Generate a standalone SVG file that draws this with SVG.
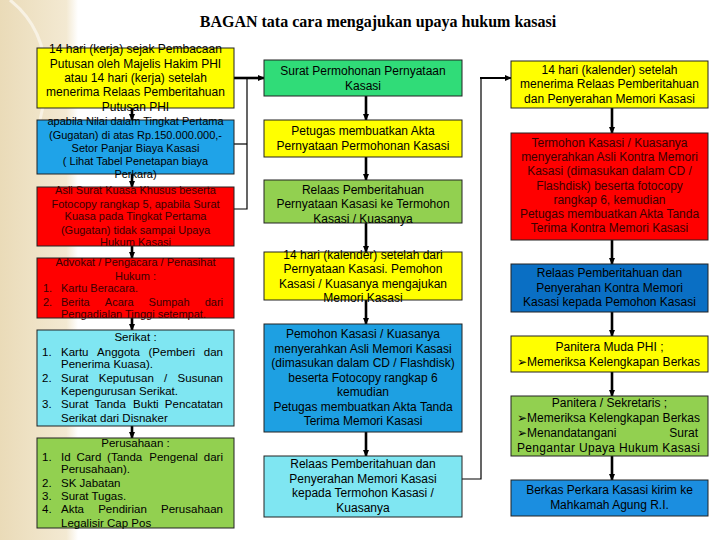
<svg xmlns="http://www.w3.org/2000/svg" width="720" height="540" viewBox="0 0 720 540">
<defs>
<linearGradient id="bg" x1="0" y1="0" x2="1" y2="0">
<stop offset="0" stop-color="#eadbb8"/>
<stop offset="0.85" stop-color="#f3e9d2"/>
<stop offset="1" stop-color="#ffffff"/>
</linearGradient>
<marker id="ah" markerUnits="userSpaceOnUse" markerWidth="7" markerHeight="7" refX="6" refY="3.5" orient="auto">
<path d="M0,0.5 L7,3.5 L0,6.5 Z" fill="#000"/>
</marker>
</defs>
<style>
.b{stroke:#222;stroke-width:1}
.t{font-family:"Liberation Sans",Arial,sans-serif;font-size:12px;fill:#000}
.s{font-size:11px}
.m{font-size:11.5px}
.c{text-anchor:middle}
.e{text-anchor:end}
.dk{fill:#3a0000}
.ti{font-family:"Liberation Serif","Times New Roman",serif;font-size:16px;font-weight:bold;fill:#000;text-anchor:middle}
.cn{fill:none;stroke:#000}
.th{stroke-width:2.6}
.tn{stroke-width:1.2}
</style>
<rect x="0" y="0" width="720" height="540" fill="#fff"/>
<rect x="0" y="0" width="78" height="540" fill="url(#bg)"/>
<path d="M10,0 Q60,40 40,120" fill="none" stroke="#f8f2e4" stroke-width="3"/>
<text class="ti" x="378" y="27">BAGAN tata cara mengajukan upaya hukum kasasi</text>

<g id="connectors">
<line class="cn th" x1="132" y1="108" x2="132" y2="120" marker-end="url(#ah)"/>
<line class="cn th" x1="132" y1="174" x2="132" y2="187" marker-end="url(#ah)"/>
<line class="cn th" x1="132" y1="246" x2="132" y2="258" marker-end="url(#ah)"/>
<line class="cn th" x1="132" y1="318" x2="132" y2="330" marker-end="url(#ah)"/>
<line class="cn th" x1="132" y1="426" x2="132" y2="438" marker-end="url(#ah)"/>
<line class="cn th" x1="234" y1="78" x2="264" y2="78" marker-end="url(#ah)"/>
<polyline class="cn tn" points="247,78 247,209 234,209"/>
<line class="cn tn" x1="234" y1="144" x2="247" y2="144"/>
<line class="cn th" x1="366" y1="96" x2="366" y2="120" marker-end="url(#ah)"/>
<line class="cn th" x1="366" y1="157" x2="366" y2="180" marker-end="url(#ah)"/>
<line class="cn th" x1="366" y1="223" x2="366" y2="252" marker-end="url(#ah)"/>
<line class="cn th" x1="366" y1="300" x2="366" y2="324" marker-end="url(#ah)"/>
<line class="cn th" x1="366" y1="432" x2="366" y2="456" marker-end="url(#ah)"/>
<polyline class="cn tn" points="462,479 481,479 481,78"/>
<line class="cn" stroke-width="2" x1="480" y1="78" x2="511" y2="78" marker-end="url(#ah)"/>
<line class="cn th" x1="612" y1="108" x2="612" y2="133" marker-end="url(#ah)"/>
<line class="cn th" x1="612" y1="240" x2="612" y2="264" marker-end="url(#ah)"/>
<line class="cn th" x1="612" y1="312" x2="612" y2="336" marker-end="url(#ah)"/>
<line class="cn th" x1="612" y1="372" x2="612" y2="396" marker-end="url(#ah)"/>
<line class="cn th" x1="612" y1="456" x2="612" y2="480" marker-end="url(#ah)"/>
</g>

<g id="l1">
<rect class="b" x="37" y="48" width="197" height="60" fill="#ffff00"/>
<text class="t c" x="135.5" y="53">14 hari (kerja) sejak Pembacaan</text>
<text class="t c" x="135.5" y="68">Putusan oleh Majelis Hakim PHI</text>
<text class="t c" x="135.5" y="82">atau 14 hari (kerja) setelah</text>
<text class="t c" x="135.5" y="96">menerima Relaas Pemberitahuan</text>
<text class="t c" x="135.5" y="111">Putusan PHI</text>
</g>
<g id="l2">
<rect class="b" x="37" y="120" width="197" height="54" fill="#1fa3e8"/>
<text class="t s c" x="135.5" y="125">apabila Nilai dalam Tingkat Pertama</text>
<text class="t s c" x="135.5" y="139">(Gugatan) di atas Rp.150.000.000,-</text>
<text class="t s c" x="135.5" y="152">Setor Panjar Biaya Kasasi</text>
<text class="t s c" x="135.5" y="165">( Lihat Tabel Penetapan biaya</text>
<text class="t s c" x="135.5" y="178">Perkara)</text>
</g>
<g id="l3">
<rect class="b" x="37" y="187" width="197" height="59" fill="#ff0000"/>
<text class="t s c dk" x="135.5" y="194">Asli Surat Kuasa Khusus beserta</text>
<text class="t s c dk" x="135.5" y="208">Fotocopy rangkap 5, apabila Surat</text>
<text class="t s c dk" x="135.5" y="220">Kuasa pada Tingkat Pertama</text>
<text class="t s c dk" x="135.5" y="234">(Gugatan) tidak sampai Upaya</text>
<text class="t s c dk" x="135.5" y="246">Hukum Kasasi</text>
</g>
<g id="l4">
<rect class="b" x="37" y="258" width="197" height="60" fill="#ff0000"/>
<text class="t s c dk" x="135.5" y="266">Advokat / Pengacara / Penasihat</text>
<text class="t s c dk" x="135.5" y="280">Hukum :</text>
<text class="t s dk" x="43" y="292">1.</text>
<text class="t s dk" x="61" y="292">Kartu Beracara.</text>
<text class="t s dk" x="43" y="306">2.</text>
<text class="t s dk" x="61" y="306">Berita</text>
<text class="t s dk" x="104.8" y="306">Acara</text>
<text class="t s dk" x="148.6" y="306">Sumpah</text>
<text class="t s dk e" x="223" y="306">dari</text>
<text class="t s dk" x="61" y="318">Pengadialan Tinggi setempat.</text>
</g>
<g id="l5">
<rect class="b" x="37" y="330" width="197" height="96" fill="#7fe6f2"/>
<text class="t m c" x="135.5" y="341">Serikat :</text>
<text class="t m" x="42" y="356">1.</text>
<text class="t m" x="61" y="356">Kartu</text>
<text class="t m" x="97.1" y="356">Anggota</text>
<text class="t m" x="148.5" y="356">(Pemberi</text>
<text class="t m e" x="223" y="356">dan</text>
<text class="t m" x="61" y="368">Penerima Kuasa).</text>
<text class="t m" x="42" y="382">2.</text>
<text class="t m" x="61" y="382">Surat</text>
<text class="t m" x="98.8" y="382">Keputusan</text>
<text class="t m" x="164.1" y="382">/</text>
<text class="t m e" x="223" y="382">Susunan</text>
<text class="t m" x="61" y="395">Kepengurusan Serikat.</text>
<text class="t m" x="42" y="408">3.</text>
<text class="t m" x="61" y="408">Surat</text>
<text class="t m" x="94.5" y="408">Tanda</text>
<text class="t m" x="133.1" y="408">Bukti</text>
<text class="t m e" x="223" y="408">Pencatatan</text>
<text class="t m" x="61" y="422">Serikat dari Disnaker</text>
</g>
<g id="l6">
<rect class="b" x="37" y="438" width="197" height="90" fill="#92d050"/>
<text class="t m c" x="135.5" y="447">Perusahaan :</text>
<text class="t m" x="42" y="461">1.</text>
<text class="t m" x="61" y="461">Id</text>
<text class="t m" x="76.4" y="461">Card</text>
<text class="t m" x="107.1" y="461">(Tanda</text>
<text class="t m" x="149.3" y="461">Pengenal</text>
<text class="t m e" x="223" y="461">dari</text>
<text class="t m" x="61" y="473">Perusahaan).</text>
<text class="t m" x="42" y="487">2.</text>
<text class="t m" x="61" y="487">SK Jabatan</text>
<text class="t m" x="42" y="500">3.</text>
<text class="t m" x="61" y="500">Surat Tugas.</text>
<text class="t m" x="42" y="513">4.</text>
<text class="t m" x="61" y="513">Akta</text>
<text class="t m" x="98.2" y="513">Pendirian</text>
<text class="t m e" x="223" y="513">Perusahaan</text>
<text class="t m" x="61" y="527">Legalisir Cap Pos</text>
</g>

<g id="m1">
<rect class="b" x="264" y="60" width="198" height="36" fill="#30dc78"/>
<text class="t c" x="363" y="75">Surat Permohonan Pernyataan</text>
<text class="t c" x="363" y="90">Kasasi</text>
</g>
<g id="m2">
<rect class="b" x="264" y="120" width="198" height="37" fill="#ffff00"/>
<text class="t c" x="363" y="135">Petugas membuatkan Akta</text>
<text class="t c" x="363" y="150">Pernyataan Permohonan Kasasi</text>
</g>
<g id="m3">
<rect class="b" x="264" y="180" width="198" height="43" fill="#92d050"/>
<text class="t c" x="363" y="194">Relaas Pemberitahuan</text>
<text class="t c" x="363" y="208">Pernyataan Kasasi ke Termohon</text>
<text class="t c" x="363" y="223">Kasasi / Kuasanya</text>
</g>
<g id="m4">
<rect class="b" x="264" y="252" width="198" height="48" fill="#ffff00"/>
<text class="t c" x="363" y="259">14 hari (kalender) setelah dari</text>
<text class="t c" x="363" y="273">Pernyataan Kasasi. Pemohon</text>
<text class="t c" x="363" y="288">Kasasi / Kuasanya mengajukan</text>
<text class="t c" x="363" y="302">Memori Kasasi</text>
</g>
<g id="m5">
<rect class="b" x="264" y="324" width="198" height="108" fill="#1ea0e2"/>
<text class="t c" x="363" y="338">Pemohon Kasasi / Kuasanya</text>
<text class="t c" x="363" y="353">menyerahkan Asli Memori Kasasi</text>
<text class="t c" x="363" y="367">(dimasukan dalam CD / Flashdisk)</text>
<text class="t c" x="363" y="382">beserta Fotocopy rangkap 6</text>
<text class="t c" x="363" y="396">kemudian</text>
<text class="t c" x="363" y="411">Petugas membuatkan Akta Tanda</text>
<text class="t c" x="363" y="425">Terima Memori Kasasi</text>
</g>
<g id="m6">
<rect class="b" x="264" y="456" width="198" height="61" fill="#7fe6f2"/>
<text class="t c" x="363" y="468">Relaas Pemberitahuan dan</text>
<text class="t c" x="363" y="483">Penyerahan Memori Kasasi</text>
<text class="t c" x="363" y="497">kepada Termohon Kasasi /</text>
<text class="t c" x="363" y="512">Kuasanya</text>
</g>

<g id="r1">
<rect class="b" x="511" y="61" width="197" height="47" fill="#ffff00"/>
<text class="t c" x="609.5" y="74">14 hari (kalender) setelah</text>
<text class="t c" x="609.5" y="88">menerima Relaas Pemberitahuan</text>
<text class="t c" x="609.5" y="103">dan Penyerahan Memori Kasasi</text>
</g>
<g id="r2">
<rect class="b" x="511" y="133" width="197" height="107" fill="#ff0000"/>
<text class="t c dk" x="609.5" y="147">Termohon Kasasi / Kuasanya</text>
<text class="t c dk" x="609.5" y="161">menyerahkan Asli Kontra Memori</text>
<text class="t c dk" x="609.5" y="175">Kasasi (dimasukan dalam CD /</text>
<text class="t c dk" x="609.5" y="190">Flashdisk) beserta fotocopy</text>
<text class="t c dk" x="609.5" y="204">rangkap 6, kemudian</text>
<text class="t c dk" x="609.5" y="218">Petugas membuatkan Akta Tanda</text>
<text class="t c dk" x="609.5" y="232">Terima Kontra Memori Kasasi</text>
</g>
<g id="r3">
<rect class="b" x="511" y="264" width="197" height="48" fill="#0a6fc4"/>
<text class="t c" x="609.5" y="277">Relaas Pemberitahuan dan</text>
<text class="t c" x="609.5" y="292">Penyerahan Kontra Memori</text>
<text class="t c" x="609.5" y="306">Kasasi kepada Pemohon Kasasi</text>
</g>
<g id="r4">
<rect class="b" x="511" y="336" width="197" height="36" fill="#ffff00"/>
<text class="t c" x="609.5" y="351">Panitera Muda PHI ;</text>
<text class="t" x="517" y="366" textLength="183" lengthAdjust="spacing">➢Memeriksa Kelengkapan Berkas</text>
</g>
<g id="r5">
<rect class="b" x="511" y="396" width="197" height="60" fill="#92d050"/>
<text class="t c" x="609.5" y="407">Panitera / Sekretaris ;</text>
<text class="t" x="517" y="422" textLength="183" lengthAdjust="spacing">➢Memeriksa Kelengkapan Berkas</text>
<text class="t" x="517" y="437">➢Menandatangani</text>
<text class="t e" x="698" y="437">Surat</text>
<text class="t" x="517" y="452" textLength="183" lengthAdjust="spacing">Pengantar Upaya Hukum Kasasi</text>
</g>
<g id="r6">
<rect class="b" x="511" y="480" width="197" height="36" fill="#1b8ee0"/>
<text class="t c" x="609.5" y="494">Berkas Perkara Kasasi kirim ke</text>
<text class="t c" x="609.5" y="509">Mahkamah  Agung R.I.</text>
</g>
</svg>
